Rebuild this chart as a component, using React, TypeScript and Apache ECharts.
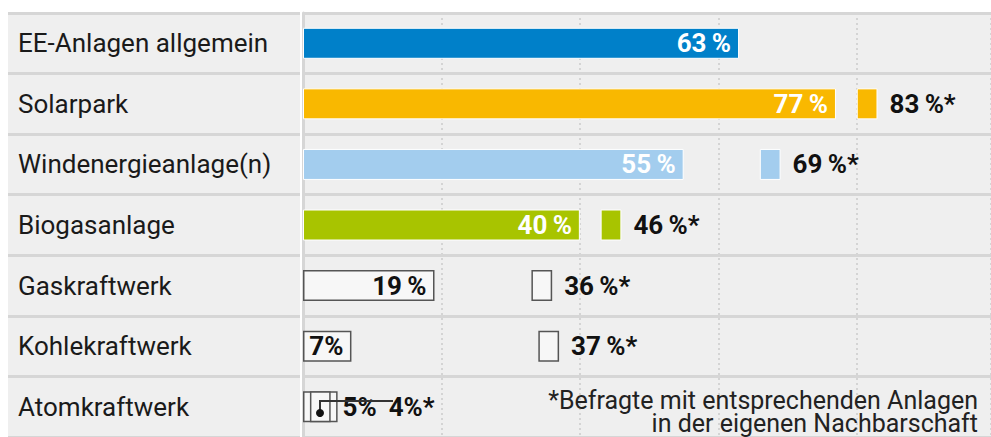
import React, { useEffect, useRef } from "react";
import * as echarts from "echarts";

const categories = [
  "EE-Anlagen allgemein",
  "Solarpark",
  "Windenergieanlage(n)",
  "Biogasanlage",
  "Gaskraftwerk",
  "Kohlekraftwerk",
  "Atomkraftwerk",
];
const overall = [63, 77, 55, 40, 19, 7, 5];
const neighbours: (number | null)[] = [null, 83, 69, 46, 36, 37, 4];
const colors = ["#0080c9", "#f9b800", "#a3cdee", "#a8c400", null, null, null];
const markerWidth = 3;
const axisMax = 99.4;
const footnote = ["*Befragte mit entsprechenden Anlagen", "in der eigenen Nachbarschaft"];

const FONT = "Roboto";
const pct = (v: number) => (v < 10 ? `${v}%` : `${v}\u2009%`);

export default function App() {
  const ref = useRef<HTMLDivElement>(null);
  useEffect(() => {
    const chart = echarts.init(ref.current!, null, { renderer: "svg" });
    const mainData = overall.map((v, i) => {
      const c = colors[i];
      const isLast = i === overall.length - 1;
      return {
        value: v,
        itemStyle: c
          ? { color: c, borderColor: "#ffffff", borderWidth: 1 }
          : { color: "#f7f7f7", borderColor: "#555555", borderWidth: 1.5 },
        label: {
          show: true,
          position: isLast ? "right" : "insideRight",
          distance: isLast ? 5 : 8,
          color: c ? "#ffffff" : "#111111",
          formatter: () => pct(v),
        },
      };
    });
    const baseData = neighbours.map((v) => (v == null ? null : v - markerWidth));
    const capData = neighbours.map((v, i) => {
      if (v == null) return null;
      const c = colors[i];
      const isLast = i === neighbours.length - 1;
      return {
        value: markerWidth,
        itemStyle: c
          ? { color: c, borderColor: "#ffffff", borderWidth: 1 }
          : { color: "#f7f7f7", borderColor: "#555555", borderWidth: 1.5 },
        label: {
          show: true,
          position: "right",
          distance: 12,
          offset: isLast ? [46, 0] : [0, 0],
          color: "#111111",
          formatter: () => `${pct(v)}*`,
        },
      };
    });

    chart.setOption({
      animation: false,
      backgroundColor: "#ffffff",
      textStyle: { fontFamily: FONT },
      grid: [
        { left: 303, right: 0, top: 13, bottom: -6, show: true, backgroundColor: "#efefef", borderWidth: 0 },
        { left: 8, width: 292, top: 13, bottom: -6, show: true, backgroundColor: "#efefef", borderWidth: 0 },
      ],
      xAxis: [
        {
          gridIndex: 0,
          type: "value",
          min: 0,
          max: axisMax,
          interval: 20,
          axisLabel: { show: false },
          axisLine: { show: false },
          axisTick: { show: false },
          splitLine: { show: true, lineStyle: { type: [2, 3], color: "#cccccc", width: 1.5 } },
        },
        { gridIndex: 1, type: "value", show: false, splitLine: { show: false } },
      ],
      yAxis: [
        {
          gridIndex: 0,
          type: "category",
          inverse: true,
          data: categories,
          axisLine: { show: true, lineStyle: { color: "#d6d6d6", width: 3 } },
          axisTick: { show: false },
          axisLabel: { align: "left", margin: 285, fontSize: 26, color: "#1a1a1a", fontFamily: FONT },
          splitLine: { show: true, lineStyle: { color: "#d6d6d6", width: 3 } },
          z: 1,
        },
        {
          gridIndex: 1,
          type: "category",
          inverse: true,
          data: categories,
          axisLine: { show: false },
          axisTick: { show: false },
          axisLabel: { show: false },
          splitLine: { show: true, lineStyle: { color: "#d6d6d6", width: 3 } },
        },
      ],
      series: [
        {
          type: "bar",
          name: "Alle",
          data: mainData,
          barWidth: 31,
          barGap: "-100%",
          z: 3,
          label: { fontSize: 26, fontWeight: "bold", fontFamily: FONT },
        },
        {
          type: "bar",
          name: "base",
          stack: "n",
          data: baseData,
          barWidth: 31,
          barGap: "-100%",
          itemStyle: { color: "rgba(0,0,0,0)" },
          silent: true,
          z: 2,
        },
        {
          type: "bar",
          name: "Nachbarschaft",
          stack: "n",
          data: capData,
          barWidth: 31,
          barGap: "-100%",
          z: 4,
          label: { fontSize: 26, fontWeight: "bold", fontFamily: FONT },
        },
      ],
      graphic: [
        {
          type: "polyline",
          shape: { points: [[320, 413], [320, 401], [393, 401]] },
          style: { stroke: "#333333", lineWidth: 2, fill: null },
          z: 10,
        },
        { type: "circle", shape: { cx: 320, cy: 413, r: 4 }, style: { fill: "#111111" }, z: 10 },
        {
          type: "text",
          x: 978,
          y: 389,
          style: {
            text: footnote.join("\n"),
            align: "right",
            verticalAlign: "top",
            font: `25px ${FONT}`,
            lineHeight: 23,
            fill: "#222222",
          },
          z: 10,
        },
      ],
    });
    return () => chart.dispose();
  }, []);
  return <div ref={ref} style={{ width: 991, height: 437, position: "absolute", left: 0, top: 0 }} />;
}
